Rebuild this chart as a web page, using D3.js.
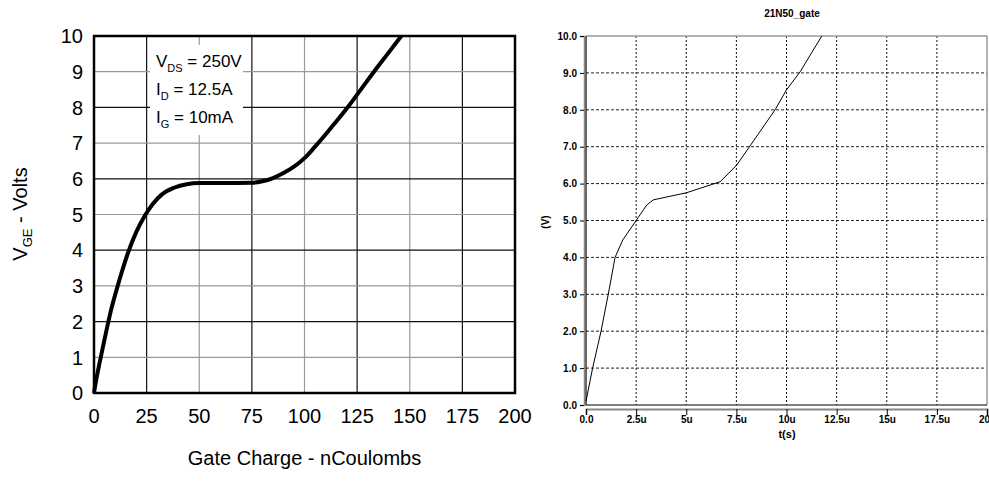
<!DOCTYPE html>
<meta charset="utf-8">
<script src="https://d3js.org/d3.v7.min.js"></script>
<style>
  body { margin: 0; background: #fff; }
</style>
<div id="my_dataviz"></div>
<script>

// left chart: datasheet gate charge curve (Q in nC, V in volts)
var qCharge = [0, 1, 2.5, 5, 8, 12, 16, 20, 24, 28, 32, 38, 44, 50, 60, 75, 80, 85, 90, 95, 100, 105, 110, 115, 121, 127, 133, 139.5, 146];
var vGate   = [0, 0.35, 0.8, 1.5, 2.3, 3.15, 3.9, 4.5, 4.95, 5.3, 5.55, 5.75, 5.85, 5.88, 5.88, 5.89, 5.93, 6.02, 6.16, 6.34, 6.58, 6.9, 7.24, 7.6, 8.04, 8.52, 9.0, 9.5, 10];
var leftXTicks = [0, 25, 50, 75, 100, 125, 150, 175, 200];
var leftYTicks = [0, 1, 2, 3, 4, 5, 6, 7, 8, 9, 10];

// right chart: simulated gate voltage (t in us, V in volts)
var tSim = [0, 0.33, 0.75, 1.11, 1.45, 1.61, 1.83, 2.5, 3.03, 3.36, 5.0, 6.69, 7.5, 8.18, 9.43, 10.0, 10.68, 11.76];
var vSim = [0.1, 1, 2, 3, 4, 4.2, 4.47, 5, 5.42, 5.56, 5.75, 6.05, 6.49, 7.02, 8.0, 8.54, 9.03, 10];
var rightXTicks = [0, 2.5, 5, 7.5, 10, 12.5, 15, 17.5, 20];
var rightXLabels = ["0.0", "2.5u", "5u", "7.5u", "10u", "12.5u", "15u", "17.5u", "20u"];
var rightYTicks = [0, 1, 2, 3, 4, 5, 6, 7, 8, 9, 10];

var svg = d3.select("#my_dataviz")
  .append("svg")
    .attr("width", 989)
    .attr("height", 483);

// ---------------- left chart ----------------
var L = {left: 94, right: 515, top: 36, bottom: 393};
var x1 = d3.scaleLinear().domain([0, 200]).range([L.left, L.right]);
var y1 = d3.scaleLinear().domain([0, 10]).range([L.bottom, L.top]);
var font1 = "'Liberation Sans', Arial, sans-serif";

var g1 = svg.append("g");

// grid, odd lines gray, even lines black
g1.selectAll("line.vgrid")
  .data(leftXTicks.slice(1, -1))
  .enter().append("line")
    .attr("x1", d => x1(d)).attr("x2", d => x1(d))
    .attr("y1", L.top).attr("y2", L.bottom)
    .attr("stroke", (d, i) => i % 2 == 0 ? "#111" : "#999")
    .attr("stroke-width", 1.2);

g1.selectAll("line.hgrid")
  .data(leftYTicks.slice(1, -1))
  .enter().append("line")
    .attr("x1", L.left).attr("x2", L.right)
    .attr("y1", d => y1(d)).attr("y2", d => y1(d))
    .attr("stroke", d => d % 2 == 1 ? "#999" : "#111")
    .attr("stroke-width", 1.2);

// legend box
var box = g1.append("g");
box.append("rect")
  .attr("x", 150).attr("y", 45)
  .attr("width", 93).attr("height", 90)
  .attr("fill", "#fff");

var legendRows = [
  {main: "V", sub: "DS", rest: " = 250V"},
  {main: "I", sub: "D", rest: " = 12.5A"},
  {main: "I", sub: "G", rest: " = 10mA"}
];
legendRows.forEach(function (r, i) {
  var t = box.append("text")
    .attr("x", 156)
    .attr("y", 67 + i * 28)
    .style("font-family", font1)
    .style("font-size", "17px")
    .attr("fill", "#000");
  t.append("tspan").text(r.main);
  t.append("tspan").attr("dy", 5).style("font-size", "11px").text(r.sub);
  t.append("tspan").attr("dy", -5).text(r.rest);
});

// frame
g1.append("rect")
  .attr("x", L.left).attr("y", L.top)
  .attr("width", L.right - L.left).attr("height", L.bottom - L.top)
  .attr("fill", "none")
  .attr("stroke", "#000")
  .attr("stroke-width", 2.5);

// curve
var leftData = qCharge.map((q, i) => ({q: q, v: vGate[i]}));
g1.append("path")
  .datum(leftData)
  .attr("fill", "none")
  .attr("stroke", "#000")
  .attr("stroke-width", 4)
  .attr("stroke-linejoin", "round")
  .attr("d", d3.line()
    .x(d => x1(d.q))
    .y(d => y1(d.v))
    .curve(d3.curveMonotoneX));

// tick labels
g1.selectAll("text.ytick")
  .data(leftYTicks)
  .enter().append("text")
    .attr("x", 83)
    .attr("y", d => y1(d))
    .attr("dy", "0.36em")
    .attr("text-anchor", "end")
    .style("font-family", font1)
    .style("font-size", "20px")
    .text(d => d);

g1.selectAll("text.xtick")
  .data(leftXTicks)
  .enter().append("text")
    .attr("x", d => x1(d))
    .attr("y", 423)
    .attr("text-anchor", "middle")
    .style("font-family", font1)
    .style("font-size", "20px")
    .text(d => d);

// axis titles
g1.append("text")
  .attr("x", x1(100))
  .attr("y", 465)
  .attr("text-anchor", "middle")
  .style("font-family", font1)
  .style("font-size", "20px")
  .text("Gate Charge - nCoulombs");

var yt = g1.append("text")
  .attr("transform", "translate(27,214) rotate(-90)")
  .attr("text-anchor", "middle")
  .style("font-family", font1)
  .style("font-size", "20px");
yt.append("tspan").text("V");
yt.append("tspan").attr("dy", 5).style("font-size", "13px").text("GE");
yt.append("tspan").attr("dy", -5).text(" - Volts");

// ---------------- right chart ----------------
var R = {left: 586, right: 987, top: 36, bottom: 405};
var x2 = d3.scaleLinear().domain([0, 20]).range([R.left, R.right]);
var y2 = d3.scaleLinear().domain([0, 10]).range([R.bottom, R.top]);
var font2 = "'Liberation Sans', Arial, sans-serif";

var g2 = svg.append("g");

g2.selectAll("line.vgrid")
  .data(rightXTicks.slice(1, -1))
  .enter().append("line")
    .attr("x1", d => x2(d)).attr("x2", d => x2(d))
    .attr("y1", R.top).attr("y2", R.bottom)
    .attr("stroke", "#111")
    .attr("stroke-dasharray", "2,2");

g2.selectAll("line.hgrid")
  .data(rightYTicks.slice(1, -1))
  .enter().append("line")
    .attr("x1", R.left).attr("x2", R.right)
    .attr("y1", d => y2(d)).attr("y2", d => y2(d))
    .attr("stroke", "#222")
    .attr("stroke-dasharray", "3,2");

// frame: gray top/right, black left/bottom
g2.append("path")
  .attr("d", "M" + R.left + "," + R.top + "H" + R.right + "V" + R.bottom)
  .attr("fill", "none")
  .attr("stroke", "#999")
  .attr("stroke-width", 1.5);
g2.append("path")
  .attr("d", "M" + R.left + "," + R.top + "V" + R.bottom + "H" + R.right)
  .attr("fill", "none")
  .attr("stroke", "#000")
  .attr("stroke-width", 1.2);

// y axis with left ticks
var yAxis2 = g2.append("g")
  .attr("transform", "translate(" + (R.left - 2) + ",0)")
  .call(d3.axisLeft(y2).tickValues(rightYTicks).tickSize(4).tickFormat(d3.format(".1f")));
yAxis2.select(".domain").attr("stroke", "#888").attr("stroke-width", 1.5);
yAxis2.selectAll("text")
  .style("font-family", font2)
  .style("font-size", "10px")
  .style("font-weight", "bold");

// x axis, offset below plot
var xAxis2 = g2.append("g")
  .attr("transform", "translate(0," + (R.bottom + 4) + ")")
  .call(d3.axisBottom(x2).tickValues(rightXTicks).tickSize(6)
    .tickFormat((d, i) => rightXLabels[i]));
xAxis2.select(".domain").attr("stroke", "#888").attr("stroke-width", 2);
xAxis2.selectAll(".tick line").attr("stroke", "#000");
xAxis2.selectAll("text")
  .attr("dy", "0.5em")
  .style("font-family", font2)
  .style("font-size", "10px")
  .style("font-weight", "bold");

// curve
var rightData = tSim.map((t, i) => ({t: t, v: vSim[i]}));
g2.append("path")
  .datum(rightData)
  .attr("fill", "none")
  .attr("stroke", "#000")
  .attr("stroke-width", 1)
  .attr("d", d3.line()
    .x(d => x2(d.t))
    .y(d => y2(d.v)));

// titles
g2.append("text")
  .attr("x", 792)
  .attr("y", 17)
  .attr("text-anchor", "middle")
  .style("font-family", font2)
  .style("font-size", "10px")
  .style("font-weight", "bold")
  .text("21N50_gate");

g2.append("text")
  .attr("x", 787)
  .attr("y", 438)
  .attr("text-anchor", "middle")
  .style("font-family", font2)
  .style("font-size", "11px")
  .style("font-weight", "bold")
  .text("t(s)");

g2.append("text")
  .attr("transform", "translate(549,222) rotate(-90)")
  .attr("text-anchor", "middle")
  .style("font-family", font2)
  .style("font-size", "10px")
  .style("font-weight", "bold")
  .text("(V)");

</script>
